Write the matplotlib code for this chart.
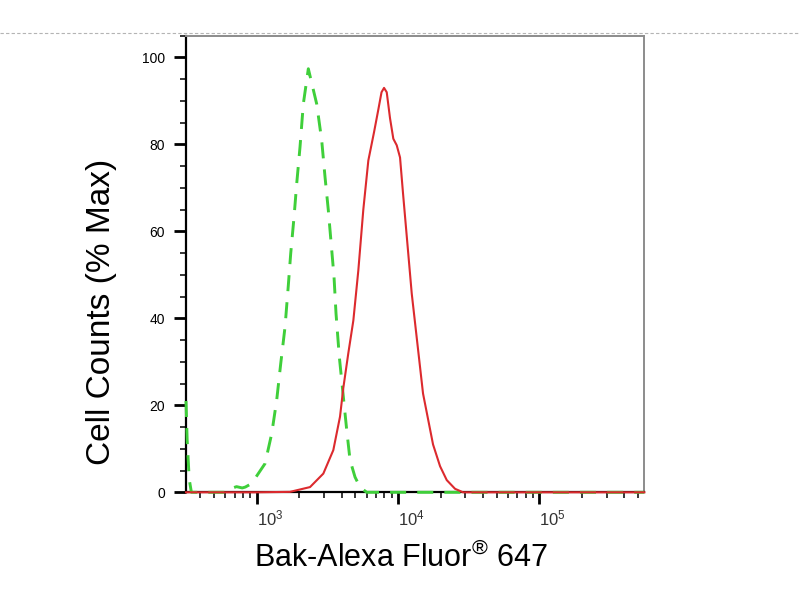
import numpy as np
import matplotlib
matplotlib.use('Agg')
import matplotlib.pyplot as plt
import matplotlib.ticker as ticker
from matplotlib.lines import Line2D

plt.rcParams['font.family'] = ['Liberation Sans', 'DejaVu Sans']
plt.rcParams['mathtext.fontset'] = 'custom'
plt.rcParams['mathtext.rm'] = 'Liberation Sans'
plt.rcParams['mathtext.it'] = 'Liberation Sans:italic'
plt.rcParams['mathtext.bf'] = 'Liberation Sans:bold'

# Bak-Alexa Fluor 647 stained (red, solid)
bak_x = [316, 1000, 1720, 2384, 2961, 3484, 3886, 4101, 4449, 4828, 5236,
         5680, 6164, 6763, 7253, 7642, 7962, 8318, 8778, 9262, 9790, 10332,
         10850, 12503, 15030, 17690, 19830, 22120, 25320, 28840, 553000]
bak_y = [0, 0, 0.1, 1.2, 4.3, 9.7, 17.4, 24, 32, 39.5, 51,
         65, 76.3, 82.8, 88, 92, 93, 92, 86, 81.3, 79.8, 77,
         68.7, 45.7, 22.7, 11, 6, 2.8, 0.8, 0, 0]

# isotype control (green, dashed)
iso_x = [316, 322, 333, 345, 600, 650, 720, 790, 830, 920, 1026, 1145, 1277,
         1385, 1479, 1586, 1673, 1740, 1837, 1919, 2025, 2137, 2319, 2658,
         2884, 3044, 3211, 3395, 3525, 3641, 3843, 4101, 4335, 4575, 4963,
         5384, 6004, 553000]
iso_y = [21, 12, 3, 0, 0, 0.8, 1.3, 1.0, 1.2, 2.0, 4.3, 6.6, 13.5,
         21.2, 29.6, 38, 47.5, 54.9, 63.3, 71, 79.4, 89.3, 97.4, 89.3,
         80.9, 72.5, 64.9, 55.7, 49.5, 41.1, 31.1, 22, 14.3, 7.4, 3.5,
         1.2, 0, 0]

xticks = [1e3, 1e4, 1e5]
xticklabels = [r'$10^{3}$', r'$10^{4}$', r'$10^{5}$']
yticks = [0, 20, 40, 60, 80, 100]

fig = plt.figure(figsize=(8, 6), dpi=100)
ax = fig.add_axes((0.2325, 0.1795, 0.5729, 0.761))

ax.plot(iso_x, iso_y, color='#3fcf3a', lw=2.1, dashes=(5.5, 3.8),
        clip_on=False, zorder=3)
ax.plot(bak_x, bak_y, color='#dc2a2e', lw=1.5, clip_on=False, zorder=4)

ax.set_xscale('log')
ax.set_xlim(316, 553000)
ax.set_ylim(0, 105)

ax.set_xticks(xticks)
ax.set_xticklabels(xticklabels, fontsize=12, color='#333333', ha='left')
ax.xaxis.set_minor_locator(ticker.LogLocator(base=10, subs=np.arange(2, 10), numticks=20))
ax.xaxis.set_minor_formatter(ticker.NullFormatter())

ax.set_yticks(yticks)
ax.set_yticklabels([str(v) for v in yticks], fontsize=10)
ax.yaxis.set_minor_locator(ticker.MultipleLocator(5))

ax.tick_params(axis='both', which='major', direction='out', length=8.5, width=2.0, color='black')
ax.tick_params(axis='both', which='minor', direction='out', length=4.5, width=1.1, color='black')
ax.tick_params(axis='x', which='major', pad=3.5)
ax.tick_params(axis='y', which='major', pad=6.5)
ax.tick_params(top=False, right=False, which='both')

ax.spines['left'].set_linewidth(1.6)
ax.spines['bottom'].set_linewidth(1.6)
ax.spines['left'].set_color('black')
ax.spines['bottom'].set_color('black')
ax.spines['top'].set_color('#8c8c8c')
ax.spines['right'].set_color('#8c8c8c')
ax.spines['top'].set_linewidth(1.4)
ax.spines['right'].set_linewidth(1.4)

fig.text(101.5 / 800, 1 - 312 / 600, 'Cell Counts (% Max)', rotation=90,
         ha='center', va='center', fontsize=24)
fig.text(400.5 / 800, 1 - 567 / 600, r'Bak-Alexa Fluor$^{\circledR}$ 647',
         ha='center', va='baseline', fontsize=22)

# faint dotted line across the top
fig.add_artist(Line2D([0, 1], [1 - 32.7 / 600] * 2, transform=fig.transFigure,
                      color='#b4b4b4', lw=0.8, linestyle=(0, (3, 2))))

fig.savefig('out.png', dpi=100)
